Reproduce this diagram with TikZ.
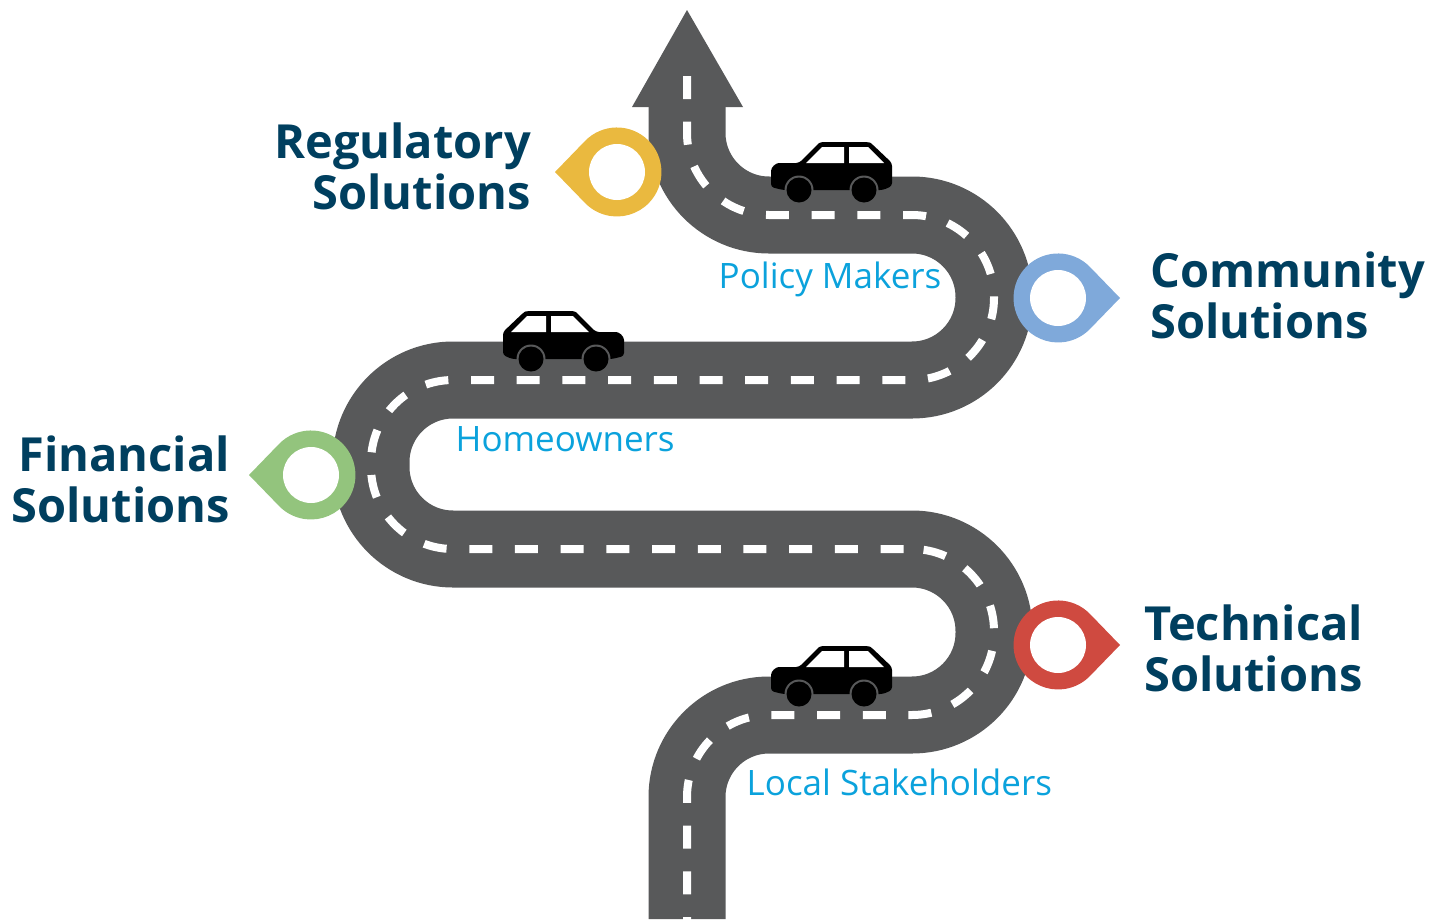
\documentclass[tikz,border=0pt]{standalone}
\usepackage{fontspec}
\setmainfont{Open Sans}
\definecolor{roadgray}{HTML}{58595A}
\definecolor{headteal}{HTML}{003F5F}
\definecolor{labelblue}{HTML}{0BA2DC}
\definecolor{pinyellow}{HTML}{EAB93F}
\definecolor{pinblue}{HTML}{7FA9DA}
\definecolor{pingreen}{HTML}{93C47D}
\definecolor{pinred}{HTML}{CF4A40}
\tikzset{
  head/.style={text=headteal,font=\fontsize{47}{51}\selectfont\bfseries,inner sep=0pt},
  tag/.style={text=labelblue,font=\fontsize{35}{39}\selectfont,inner sep=0pt,anchor=base west},
  centreline/.style={white,line width=8pt,rounded corners=82pt,dash pattern=on 23pt off 22.7pt},
  pin/.pic={
    \fill[pic actions] (-62,0) -- (-32,-31) arc[start angle=-135.9,end angle=135.9,radius=44.5pt,y radius=-44.5pt] -- cycle;
    \fill[white] (0,0) circle[radius=28pt];
  },
  car/.pic={
    \fill[black,rounded corners=3pt] (0,45) -- (0,32) .. controls (0,25) and (5,21) .. (11,21) -- (28,21) -- (46,3) -- (49,0) -- (98,0) -- (101,2) -- (121,21) -- (121,44) -- (112,48) -- (12,48) -- cycle;
    \fill[white] (35,21) -- (51,5) -- (73,5) -- (73,21) -- cycle;
    \fill[white] (78,5) -- (97,5) -- (113,21) -- (78,21) -- cycle;
    \foreach \wx in {28,93} {
      \fill[roadgray] (\wx,48) circle[radius=14.5pt];
      \fill[black] (\wx,48) circle[radius=12.5pt];
    }
  },
}
\begin{document}
\begin{tikzpicture}[x=1pt,y=-1pt]
  \useasboundingbox (0,0) rectangle (1430,919);
  % road
  \draw[roadgray,line width=77pt,rounded corners=82pt] (687,919) -- (687,715) -- (994,715) -- (994,549) -- (371,549) -- (371,380) -- (994,380) -- (994,215) -- (687,215) -- (687,100);
  \fill[roadgray] (632,107) -- (687,10) -- (743,107) -- cycle;
  % centre line
  \draw[centreline] (687,76) -- (687,215) -- (994,215) -- (994,380) -- (371,380) -- (371,549) -- (905,549);
  \draw[centreline] (687,940) -- (687,715) -- (994,715) -- (994,549) -- (912,549);
  % pins
  \pic[pinyellow] (pinreg) at (617,172) {pin};
  \pic[pinblue,xscale=-1] (pincom) at (1058,298) {pin};
  \pic[pingreen] (pinfin) at (311,475) {pin};
  \pic[pinred,xscale=-1] (pintec) at (1058,645) {pin};
  % cars
  \pic (carone) at (771,142) {car};
  \pic[xscale=-1] (cartwo) at (624,311) {car};
  \pic (carthree) at (771,646) {car};
  % texts
  \node[head,align=right,anchor=east] (reg) at (531,166.3) {Regulatory\\Solutions};
  \node[head,align=left,anchor=west] (com) at (1150,295.3) {Community\\Solutions};
  \node[head,align=right,anchor=east] (fin) at (230,479.3) {Financial\\Solutions};
  \node[head,align=left,anchor=west] (tec) at (1144,648.3) {Technical\\Solutions};
  \node[tag] (pol) at (718.5,288) {Policy Makers};
  \node[tag] (hom) at (455.5,451.5) {Homeowners};
  \node[tag] (loc) at (746.5,795) {Local Stakeholders};
\end{tikzpicture}
\end{document}
